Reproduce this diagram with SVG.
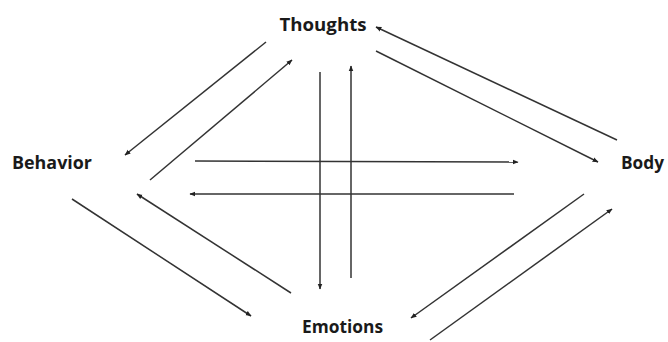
<svg xmlns="http://www.w3.org/2000/svg" width="668" height="342" viewBox="0 0 668 342">
<style>
.lbl{font-family:"Open Sans","Liberation Sans",sans-serif;font-weight:bold;font-size:18px;fill:#1a1a1a}
.c line{stroke:#333;stroke-width:1.5;marker-end:url(#ah)}
</style>
<defs>
<marker id="ah" viewBox="0 0 10 10" refX="9" refY="5" markerWidth="6" markerHeight="6" markerUnits="userSpaceOnUse" orient="auto">
<path d="M0,1 L10,5 L0,9 z" fill="#222"/>
</marker>
</defs>
<rect width="668" height="342" fill="#fff"/>
<g id="thoughts"><text class="lbl" x="323" y="31" text-anchor="middle" textLength="87" lengthAdjust="spacingAndGlyphs">Thoughts</text></g>
<g id="behavior"><text class="lbl" x="12" y="169" textLength="80" lengthAdjust="spacingAndGlyphs">Behavior</text></g>
<g id="body"><text class="lbl" x="621" y="169" textLength="43" lengthAdjust="spacingAndGlyphs">Body</text></g>
<g id="emotions"><text class="lbl" x="302" y="333" textLength="81" lengthAdjust="spacingAndGlyphs">Emotions</text></g>
<g id="connectors" class="c">
<line x1="266" y1="42" x2="125" y2="155"/>
<line x1="150" y1="180" x2="292" y2="60"/>
<line x1="320" y1="72" x2="320" y2="289"/>
<line x1="351" y1="278" x2="351" y2="66"/>
<line x1="195" y1="161" x2="518" y2="162"/>
<line x1="514" y1="194" x2="190" y2="194"/>
<line x1="617" y1="140" x2="376" y2="27"/>
<line x1="376" y1="51" x2="598" y2="162"/>
<line x1="72" y1="199" x2="251" y2="316"/>
<line x1="291" y1="293" x2="137" y2="194"/>
<line x1="584" y1="194" x2="411" y2="318"/>
<line x1="430" y1="340" x2="612" y2="209"/>
</g>
</svg>
